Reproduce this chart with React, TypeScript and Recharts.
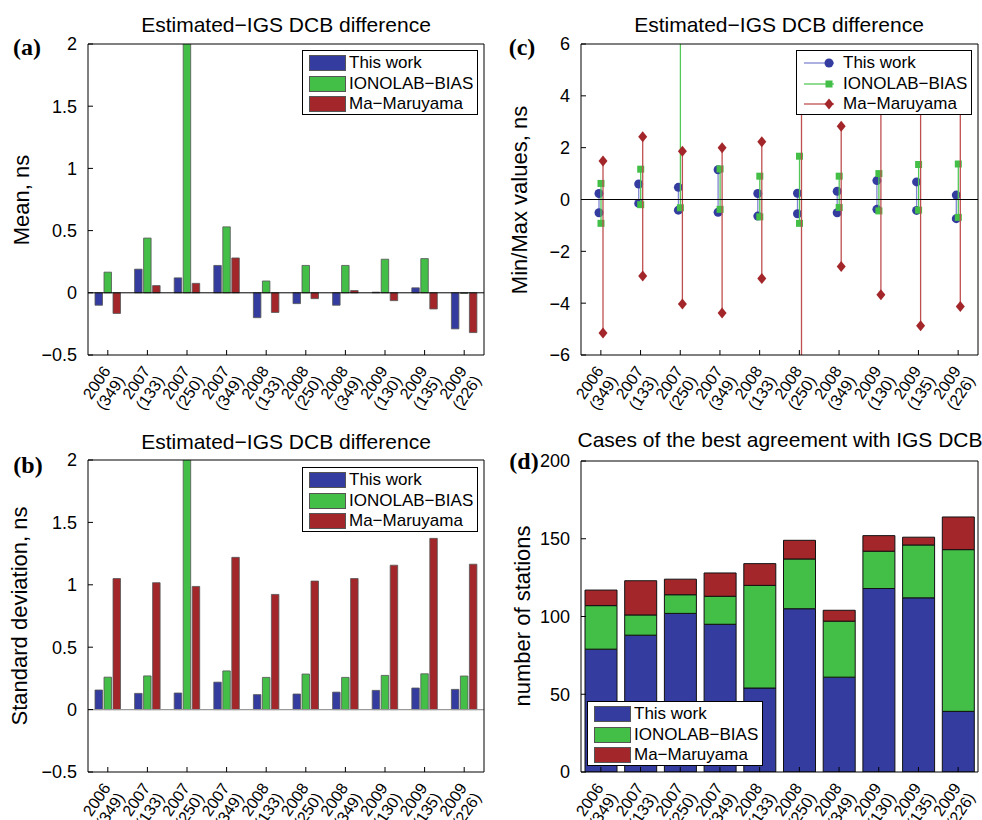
import React from 'react'
import { BarChart, Bar, XAxis, YAxis, ReferenceLine } from 'recharts'

// ─── categories ─────────────────────────────────────────────────────────────
const years = ['2006', '2007', '2007', '2007', '2008', '2008', '2008', '2009', '2009', '2009']
const doys = ['(349)', '(133)', '(250)', '(349)', '(133)', '(250)', '(349)', '(130)', '(135)', '(226)']
const categories = years.map((y, i) => `${y} ${doys[i]}`)

const seriesNames = ['This work', 'IONOLAB\u2212BIAS', 'Ma\u2212Maruyama']
const barColors = ['#343d9f', '#43bf48', '#a3272a']
const lineColors = ['#8087d2', '#52c957', '#bf4f4f']

// ─── (a) mean difference, ns ────────────────────────────────────────────────
const meanThis = [-0.10, 0.19, 0.12, 0.22, -0.20, -0.087, -0.10, 0.005, 0.04, -0.29]
const meanIono = [0.166, 0.44, 2.6, 0.53, 0.095, 0.22, 0.22, 0.27, 0.275, -0.005]
const meanMa = [-0.166, 0.058, 0.076, 0.28, -0.158, -0.047, 0.018, -0.063, -0.13, -0.32]

// ─── (b) standard deviation, ns ─────────────────────────────────────────────
const stdThis = [0.157, 0.13, 0.133, 0.22, 0.12, 0.125, 0.14, 0.154, 0.173, 0.162]
const stdIono = [0.26, 0.27, 2.6, 0.31, 0.258, 0.285, 0.258, 0.274, 0.287, 0.269]
const stdMa = [1.05, 1.017, 0.987, 1.22, 0.923, 1.03, 1.05, 1.157, 1.372, 1.165]

// ─── (c) min / max, ns ──────────────────────────────────────────────────────
const minThis = [-0.51, -0.15, -0.41, -0.49, -0.64, -0.55, -0.51, -0.38, -0.42, -0.74]
const maxThis = [0.23, 0.60, 0.47, 1.15, 0.23, 0.24, 0.32, 0.73, 0.68, 0.17]
const minIono = [-0.92, -0.2, -0.32, -0.38, -0.67, -0.92, -0.31, -0.44, -0.41, -0.69]
const maxIono = [0.62, 1.17, 7.5, 1.18, 0.9, 1.67, 0.9, 1.0, 1.35, 1.37]
const minMa = [-5.15, -2.95, -4.03, -4.38, -3.05, -7.2, -2.59, -3.68, -4.87, -4.13]
const maxMa = [1.49, 2.42, 1.86, 2.0, 2.23, 4.8, 2.83, 4.6, 5.2, 4.4]

// ─── (d) number of stations with best agreement ─────────────────────────────
const bestThis = [79, 88, 102, 95, 54, 105, 61, 118, 112, 39]
const bestIono = [28, 13, 12, 18, 66, 32, 36, 24, 34, 104]
const bestMa = [10, 22, 10, 15, 14, 12, 7, 10, 5, 21]

const meanTicks = [-0.5, 0, 0.5, 1, 1.5, 2]
const minMaxTicks = [-6, -4, -2, 0, 2, 4, 6]
const countTicks = [0, 50, 100, 150, 200]

const meanData = categories.map((cat, i) => ({ cat, tw: meanThis[i], io: meanIono[i], ma: meanMa[i] }))
const stdData = categories.map((cat, i) => ({ cat, tw: stdThis[i], io: stdIono[i], ma: stdMa[i] }))
const rangeData = categories.map((cat, i) => ({
  cat,
  tw: [minThis[i], maxThis[i]],
  io: [minIono[i], maxIono[i]],
  ma: [minMa[i], maxMa[i]],
}))
const bestData = categories.map((cat, i) => ({ cat, tw: bestThis[i], io: bestIono[i], ma: bestMa[i] }))

const FONT = '"Liberation Sans", Arial, Helvetica, sans-serif'
const SERIF = '"Liberation Serif", "Times New Roman", serif'
const minus = (v: number) => String(v).replace('-', '\u2212')

function CatTick({ x, y, payload }: any) {
  const [yr, d] = String(payload.value).split(' ')
  return (
    <g transform={`translate(${x + 5},${y + 17})`}>
      <text transform="rotate(-56)" textAnchor="end" fontSize={16} fontFamily={FONT} fill="#000">
        <tspan x={0} dy={-2}>{yr}</tspan>
        <tspan x={0} dy={17}>{d}</tspan>
      </text>
    </g>
  )
}

// matlab-like box: inward ticks on all four sides
function frame(domain: number[], ticks: number[], xh: number, yw: number) {
  return [
    <XAxis key="xb" dataKey="cat" interval={0} height={xh} tickSize={-5} tickMargin={5}
      tick={(p: any) => <CatTick {...p} />} axisLine={{ stroke: '#000' }} tickLine={{ stroke: '#000' }} />,
    <XAxis key="xt" xAxisId="top" dataKey="cat" orientation="top" mirror interval={0} tick={false}
      tickSize={5} axisLine={{ stroke: '#000' }} tickLine={{ stroke: '#000' }} />,
    <YAxis key="yl" type="number" domain={domain} ticks={ticks} allowDataOverflow width={yw}
      tickSize={-5} tickMargin={16} tickFormatter={minus}
      tick={{ fontSize: 18, fill: '#000', fontFamily: FONT }} axisLine={{ stroke: '#000' }} tickLine={{ stroke: '#000' }} />,
    <YAxis key="yr" yAxisId="right" type="number" orientation="right" mirror domain={domain} ticks={ticks}
      allowDataOverflow tick={false} tickSize={5} axisLine={{ stroke: '#000' }} tickLine={{ stroke: '#000' }} />,
  ]
}

function Marker({ kind, cx, cy, color }: { kind: number; cx: number; cy: number; color: string }) {
  if (kind === 0) return <circle cx={cx} cy={cy} r={4.5} fill={color} />
  if (kind === 1) return <rect x={cx - 3.5} y={cy - 3.5} width={7} height={7} fill={color} />
  return <polygon points={`${cx},${cy - 5.5} ${cx + 4.5},${cy} ${cx},${cy + 5.5} ${cx - 4.5},${cy}`} fill={color} />
}

function rangeShape(kind: number) {
  return (p: any) => {
    const cx = p.x + p.width / 2
    const top = Math.min(p.y, p.y + p.height)
    const bot = Math.max(p.y, p.y + p.height)
    return (
      <g>
        <line x1={cx} x2={cx} y1={top} y2={bot} stroke={lineColors[kind]} strokeWidth={1.3} />
        <Marker kind={kind} cx={cx} cy={top} color={barColors[kind]} />
        <Marker kind={kind} cx={cx} cy={bot} color={barColors[kind]} />
      </g>
    )
  }
}

function LegendBox({ left, top, lines }: { left: number; top: number; lines?: boolean }) {
  return (
    <div style={{
      position: 'absolute', left, top, width: 174, height: 63, background: '#fff',
      border: '1px solid #000', fontFamily: FONT, fontSize: 17, color: '#000',
    }}>
      {seriesNames.map((name, i) => (
        <div key={name} style={{ position: 'absolute', left: 0, top: 2 + i * 20.5, height: 20, width: 174 }}>
          <svg width={40} height={20} style={{ position: 'absolute', left: 6, top: 0 }}>
            {lines ? (
              <g>
                <line x1={1} x2={31} y1={10} y2={10} stroke={lineColors[i]} strokeWidth={1.3} />
                <Marker kind={i} cx={26} cy={10} color={barColors[i]} />
              </g>
            ) : (
              <rect x={0.5} y={2.5} width={36} height={15} fill={barColors[i]} stroke="#555" />
            )}
          </svg>
          <span style={{ position: 'absolute', left: 46, top: 0, lineHeight: '20px', whiteSpace: 'nowrap' }}>{name}</span>
        </div>
      ))}
    </div>
  )
}

function Text({ x, y, children, size = 21, rotate = false, serif = false }: any) {
  return (
    <div style={{
      position: 'absolute', left: x, top: y, whiteSpace: 'nowrap',
      transform: `translate(-50%,-50%)${rotate ? ' rotate(-90deg)' : ''}`,
      fontFamily: serif ? SERIF : FONT, fontWeight: serif ? 700 : 400, fontSize: size, color: '#000',
    }}>{children}</div>
  )
}

const barEdge = { stroke: '#555', strokeWidth: 0.8 }

export default function App() {
  return (
    <div style={{ position: 'fixed', left: 0, top: 0, width: 982, height: 820, background: '#fff', overflow: 'hidden' }}>
      {/* (a) */}
      <div style={{ position: 'absolute', left: 0, top: 0 }}>
        <BarChart width={491} height={420} data={meanData} margin={{ top: 44, right: 7, bottom: 0, left: 0 }}
          barSize={7.5} barGap={1.5}>
          {frame([-0.5, 2], meanTicks, 65, 88)}
          <ReferenceLine y={0} stroke="#000" strokeWidth={1} />
          <Bar dataKey="tw" name={seriesNames[0]} fill={barColors[0]} {...barEdge} isAnimationActive={false} />
          <Bar dataKey="io" name={seriesNames[1]} fill={barColors[1]} {...barEdge} isAnimationActive={false} />
          <Bar dataKey="ma" name={seriesNames[2]} fill={barColors[2]} {...barEdge} isAnimationActive={false} />
        </BarChart>
      </div>
      {/* (b) */}
      <div style={{ position: 'absolute', left: 0, top: 420 }}>
        <BarChart width={491} height={400} data={stdData} margin={{ top: 40, right: 7, bottom: 0, left: 0 }}
          barSize={7.5} barGap={1.5}>
          {frame([-0.5, 2], meanTicks, 48, 88)}
          <ReferenceLine y={0} stroke="#999" strokeWidth={1.2} />
          <Bar dataKey="tw" name={seriesNames[0]} fill={barColors[0]} {...barEdge} isAnimationActive={false} />
          <Bar dataKey="io" name={seriesNames[1]} fill={barColors[1]} {...barEdge} isAnimationActive={false} />
          <Bar dataKey="ma" name={seriesNames[2]} fill={barColors[2]} {...barEdge} isAnimationActive={false} />
        </BarChart>
      </div>
      {/* (c) */}
      <div style={{ position: 'absolute', left: 490, top: 0 }}>
        <BarChart width={492} height={420} data={rangeData} margin={{ top: 44, right: 4, bottom: 0, left: 0 }}
          barSize={2} barGap={0}>
          {frame([-6, 6], minMaxTicks, 65, 91)}
          <ReferenceLine y={0} stroke="#000" strokeWidth={1} />
          <Bar dataKey="tw" name={seriesNames[0]} fill={barColors[0]} shape={rangeShape(0)} isAnimationActive={false} />
          <Bar dataKey="io" name={seriesNames[1]} fill={barColors[1]} shape={rangeShape(1)} isAnimationActive={false} />
          <Bar dataKey="ma" name={seriesNames[2]} fill={barColors[2]} shape={rangeShape(2)} isAnimationActive={false} />
        </BarChart>
      </div>
      {/* (d) */}
      <div style={{ position: 'absolute', left: 490, top: 420 }}>
        <BarChart width={492} height={400} data={bestData} margin={{ top: 41, right: 4, bottom: 0, left: 0 }}
          barSize={32}>
          {frame([0, 200], countTicks, 48, 91)}
          <Bar dataKey="tw" stackId="s" name={seriesNames[0]} fill={barColors[0]} stroke="#111" strokeWidth={1} isAnimationActive={false} />
          <Bar dataKey="io" stackId="s" name={seriesNames[1]} fill={barColors[1]} stroke="#111" strokeWidth={1} isAnimationActive={false} />
          <Bar dataKey="ma" stackId="s" name={seriesNames[2]} fill={barColors[2]} stroke="#111" strokeWidth={1} isAnimationActive={false} />
        </BarChart>
      </div>

      <LegendBox left={302} top={50} />
      <LegendBox left={302} top={467} />
      <LegendBox left={796} top={50} lines />
      <LegendBox left={587} top={701} />

      <Text x={286} y={25}>Estimated{'\u2212'}IGS DCB difference</Text>
      <Text x={286} y={442}>Estimated{'\u2212'}IGS DCB difference</Text>
      <Text x={779} y={25}>Estimated{'\u2212'}IGS DCB difference</Text>
      <Text x={780} y={440}>Cases of the best agreement with IGS DCB</Text>

      <Text x={22} y={200} size={22} rotate>Mean, ns</Text>
      <Text x={20} y={616} size={22} rotate>Standard deviation, ns</Text>
      <Text x={520} y={200} size={22} rotate>Min/Max values, ns</Text>
      <Text x={523} y={616} size={22} rotate>number of stations</Text>

      <Text x={27} y={47} size={24} serif>(a)</Text>
      <Text x={28} y={465} size={24} serif>(b)</Text>
      <Text x={522} y={47} size={24} serif>(c)</Text>
      <Text x={524} y={461} size={24} serif>(d)</Text>
    </div>
  )
}
